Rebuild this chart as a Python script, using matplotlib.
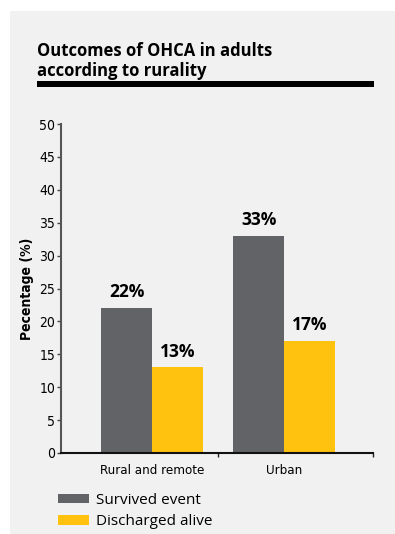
import matplotlib.pyplot as plt
from matplotlib.patches import Rectangle
import numpy as np

categories = ["Rural and remote", "Urban"]
survived = [22, 33]
discharged = [13, 17]
series_names = ["Survived event", "Discharged alive"]
yticks = list(range(0, 55, 5))

GREY = "#626366"
YELLOW = "#FFC20E"
PANEL = "#F1F1F1"
BOLD = ["Open Sans", "DejaVu Sans"]
NARROW = dict(family="DejaVu Sans", stretch="condensed")

W, H = 395, 534
fig = plt.figure(figsize=(W / 100, H / 100), dpi=100, facecolor="white")

# grey panel behind everything
fig.patches.append(Rectangle((10 / W, 0), 1, 1 - 11 / H, transform=fig.transFigure,
                             facecolor=PANEL, edgecolor="none", zorder=-10))

fig.text(37 / W, 1 - 56 / H, "Outcomes of OHCA in adults", family=BOLD,
         weight="bold", fontsize=12, va="baseline", ha="left")
fig.text(37 / W, 1 - 76 / H, "according to rurality", family=BOLD,
         weight="bold", fontsize=12, va="baseline", ha="left")
fig.patches.append(Rectangle((37 / W, 1 - 87 / H), (374 - 37) / W, 6 / H,
                             transform=fig.transFigure, facecolor="black",
                             edgecolor="none"))

ax = fig.add_axes([61 / W, 1 - 453 / H, (373 - 61) / W, (453 - 124) / H])
ax.set_facecolor("none")

x = np.arange(len(categories))
width = 0.383
b1 = ax.bar(x - width / 2, survived, width, color=GREY, label=series_names[0])
b2 = ax.bar(x + width / 2, discharged, width, color=YELLOW, label=series_names[1])

for bars, vals in [(b1, survived), (b2, discharged)]:
    for bar, v in zip(bars, vals):
        ax.annotate(f"{v}%", (bar.get_x() + bar.get_width() / 2, v),
                    xytext=(0, 5), textcoords="offset points", ha="center",
                    va="bottom", family=BOLD, weight="bold", fontsize=12.5)

ax.set_xlim(-0.689, 1.674)
ax.set_ylim(0, 50)
ax.set_yticks(yticks)
ax.set_yticklabels([str(t) for t in yticks], fontsize=10, **NARROW)

# category labels centred on the groups, ticks at the group boundaries
ax.set_xticks([0.5, 1.674])
ax.set_xticklabels([])
ax.set_xticks(x, minor=True)
ax.set_xticklabels(categories, minor=True, fontsize=9.5, **NARROW)
ax.tick_params(axis="x", which="minor", length=0, pad=8)
ax.tick_params(axis="x", which="major", length=3, width=1, color="#222222")
ax.tick_params(axis="y", length=3, width=1, color="#444444", pad=1)

ax.set_ylabel("Pecentage (%)", weight="bold", fontsize=10, labelpad=4,
              **NARROW)

for side in ["top", "right"]:
    ax.spines[side].set_visible(False)
ax.spines["left"].set_color("#555555")
ax.spines["left"].set_linewidth(1.5)
ax.spines["bottom"].set_color("#111111")
ax.spines["bottom"].set_linewidth(1.5)

fig.legend(handles=[b1, b2], loc="upper left",
           bbox_to_anchor=(58 / W, 1 - 493 / H), frameon=False,
           prop={"family": BOLD[0], "size": 11}, handlelength=2.0,
           handleheight=0.6, handletextpad=0.5, labelspacing=0.4,
           borderpad=0, borderaxespad=0)

fig.savefig("out.png", dpi=100, facecolor=fig.get_facecolor())
